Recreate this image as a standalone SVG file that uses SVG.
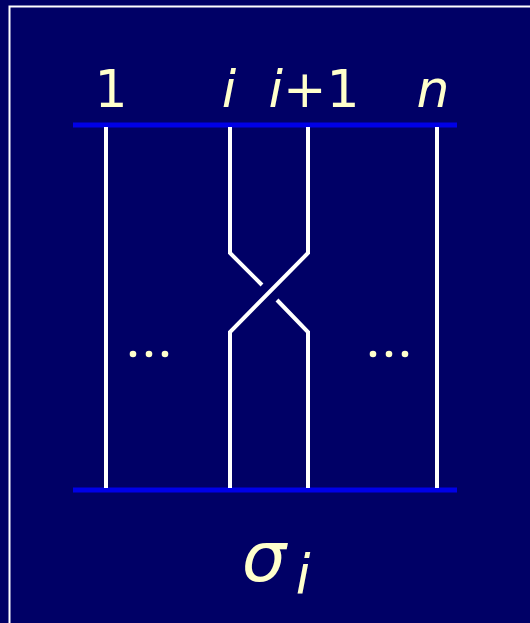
<svg xmlns="http://www.w3.org/2000/svg" width="530" height="623" viewBox="0 0 530 623">
<style>
.bar{stroke:#0000e6;stroke-width:5}
.s{stroke:#ffffff;stroke-width:4;fill:none}
.t{fill:#ffffcc;font-family:"DejaVu Sans",Verdana,sans-serif;font-size:52px}
.d{fill:#ffffcc}
</style>
<rect width="530" height="623" fill="#000066"/>
<path d="M9.5 623V6.5H530" fill="none" stroke="#ffffff" stroke-width="2"/>
<g id="top-bar"><line class="bar" x1="73" y1="125" x2="457" y2="125"/></g>
<g id="bottom-bar"><line class="bar" x1="73" y1="490" x2="457" y2="490"/></g>
<g id="connectors">
<line class="s" x1="106" y1="127" x2="106" y2="488"/>
<line class="s" x1="437" y1="127" x2="437" y2="488"/>
<path class="s" d="M230 127V253L262 285"/>
<path class="s" d="M277 300L308 332V488"/>
<path class="s" d="M308 127V253L230 332V488"/>
</g>
<g id="labels">
<text class="t" x="111" y="107" text-anchor="middle">1</text>
<text class="t" x="229" y="107" text-anchor="middle" font-style="italic">i</text>
<text class="t" x="314" y="107" text-anchor="middle"><tspan font-style="italic">i</tspan>+1</text>
<text class="t" x="433" y="107" text-anchor="middle" font-style="italic">n</text>
</g>
<g id="dots-left"><circle class="d" cx="133" cy="354" r="3.3"/><circle class="d" cx="149" cy="354" r="3.3"/><circle class="d" cx="165" cy="354" r="3.3"/></g>
<g id="dots-right"><circle class="d" cx="373" cy="354" r="3.3"/><circle class="d" cx="389" cy="354" r="3.3"/><circle class="d" cx="405" cy="354" r="3.3"/></g>
<g id="sigma"><text class="t" x="264" y="581" text-anchor="middle" font-style="italic" style="font-size:70px">σ</text><text class="t" x="303" y="593" text-anchor="middle" font-style="italic" style="font-size:53px">i</text></g>
</svg>
